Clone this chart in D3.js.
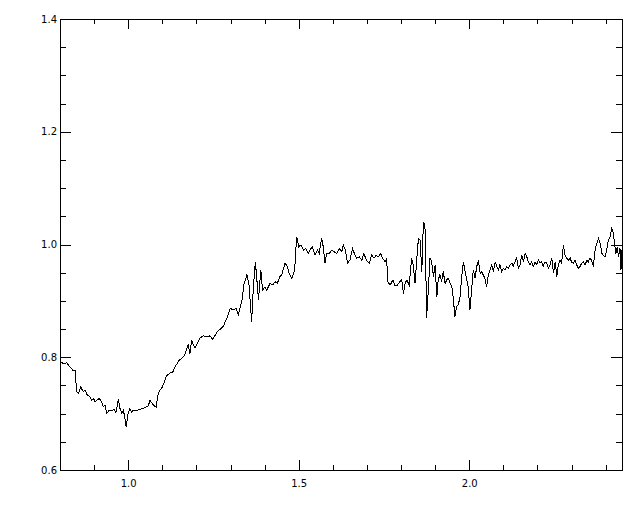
<!DOCTYPE html>
<html>
<head>
<meta charset="utf-8">
<script src="https://cdn.jsdelivr.net/npm/d3@7"></script>
<style>
  html, body { margin: 0; padding: 0; background: #fff; }
  svg { display: block; }
  .tick text { font-family: "DejaVu Sans", sans-serif; font-size: 10px; fill: #000; }
</style>
</head>
<body>
<svg id="chart" width="640" height="512"></svg>
<script>
// Wavelength (x) values
const wavelength = [
  0.800,0.810,0.820,0.829,0.839,0.844,0.849,0.854,0.861,0.868,0.873,0.880,0.888,0.893,0.898,0.903,0.908,0.915,0.922,0.927,
  0.932,0.937,0.945,0.952,0.958,0.964,0.971,0.976,0.981,0.986,0.991,0.994,1.000,1.005,1.010,1.015,1.025,1.035,1.044,1.054,
  1.059,1.064,1.069,1.076,1.082,1.088,1.093,1.098,1.105,1.111,1.118,1.123,1.131,1.137,1.144,1.150,1.157,1.164,1.170,1.176,
  1.181,1.186,1.191,1.196,1.203,1.211,1.220,1.230,1.240,1.247,1.255,1.261,1.279,1.289,1.299,1.308,1.316,1.323,1.333,1.340,
  1.348,1.354,1.362,1.367,1.373,1.379,1.382,1.389,1.394,1.401,1.406,1.416,1.424,1.431,1.437,1.445,1.450,1.460,1.467,1.472,
  1.480,1.488,1.494,1.500,1.506,1.514,1.521,1.528,1.533,1.540,1.548,1.555,1.560,1.567,1.572,1.577,1.582,1.590,1.597,1.604,
  1.611,1.619,1.626,1.631,1.637,1.643,1.650,1.658,1.665,1.670,1.678,1.685,1.691,1.699,1.707,1.714,1.721,1.727,1.733,1.740,
  1.746,1.753,1.758,1.761,1.768,1.776,1.782,1.789,1.797,1.802,1.807,1.812,1.817,1.824,1.831,1.836,1.841,1.846,1.851,1.856,
  1.861,1.864,1.867,1.871,1.875,1.880,1.885,1.890,1.895,1.900,1.905,1.909,1.914,1.919,1.924,1.929,1.934,1.939,1.944,1.949,
  1.953,1.958,1.963,1.968,1.973,1.978,1.983,1.988,1.993,1.997,2.002,2.007,2.012,2.017,2.022,2.027,2.032,2.037,2.041,2.046,
  2.051,2.056,2.061,2.066,2.071,2.076,2.081,2.086,2.090,2.095,2.100,2.105,2.110,2.115,2.120,2.125,2.129,2.134,2.139,2.144,
  2.149,2.154,2.159,2.164,2.169,2.173,2.178,2.183,2.188,2.193,2.198,2.203,2.208,2.212,2.217,2.222,2.227,2.232,2.237,2.242,
  2.247,2.252,2.257,2.261,2.266,2.271,2.276,2.281,2.286,2.291,2.296,2.300,2.305,2.310,2.315,2.320,2.325,2.330,2.335,2.340,
  2.345,2.349,2.354,2.359,2.364,2.369,2.374,2.379,2.384,2.389,2.393,2.398,2.403,2.408,2.413,2.418,2.423,2.426,2.430,2.434,
  2.438,2.442,2.445,2.448
];
// Flux (y) values
const flux = [
  0.792,0.789,0.790,0.783,0.776,0.777,0.739,0.736,0.747,0.739,0.742,0.733,0.730,0.724,0.727,0.721,0.724,0.727,0.721,0.712,
  0.715,0.701,0.706,0.705,0.708,0.702,0.725,0.709,0.701,0.706,0.689,0.677,0.701,0.709,0.703,0.706,0.705,0.708,0.709,0.712,
  0.714,0.724,0.719,0.714,0.712,0.736,0.742,0.745,0.754,0.766,0.770,0.772,0.774,0.783,0.789,0.795,0.798,0.802,0.812,0.822,
  0.806,0.831,0.822,0.816,0.825,0.834,0.838,0.836,0.838,0.832,0.839,0.845,0.855,0.869,0.887,0.884,0.887,0.875,0.899,0.931,
  0.946,0.931,0.863,0.925,0.969,0.925,0.902,0.955,0.919,0.925,0.919,0.931,0.928,0.934,0.931,0.943,0.946,0.967,0.961,0.949,
  0.940,0.955,1.014,0.996,0.999,0.990,0.993,0.984,0.990,0.996,0.981,0.990,0.984,1.011,0.996,0.967,0.984,0.984,0.990,0.987,
  0.984,0.993,0.987,0.999,0.990,0.967,0.972,0.993,0.981,0.976,0.978,0.972,0.984,0.972,0.967,0.981,0.976,0.981,0.978,0.984,
  0.976,0.969,0.974,0.934,0.928,0.937,0.928,0.928,0.934,0.937,0.913,0.931,0.937,0.928,0.976,0.964,0.931,0.972,1.011,1.008,
  0.952,1.014,1.040,1.026,0.869,0.919,0.976,0.969,0.943,0.964,0.907,0.937,0.946,0.934,0.952,0.931,0.937,0.940,0.931,0.925,
  0.907,0.872,0.890,0.893,0.907,0.943,0.969,0.952,0.937,0.925,0.884,0.919,0.955,0.940,0.961,0.972,0.949,0.952,0.946,0.940,
  0.925,0.946,0.955,0.964,0.952,0.969,0.961,0.955,0.964,0.952,0.958,0.955,0.961,0.958,0.964,0.967,0.961,0.969,0.976,0.958,
  0.964,0.981,0.969,0.984,0.978,0.969,0.964,0.969,0.961,0.969,0.964,0.972,0.967,0.969,0.961,0.969,0.967,0.958,0.964,0.976,
  0.949,0.969,0.943,0.964,0.972,0.967,0.999,0.981,0.976,0.972,0.976,0.969,0.967,0.972,0.964,0.958,0.961,0.967,0.969,0.964,
  0.972,0.969,0.976,0.972,0.961,0.990,1.002,1.011,1.002,0.984,0.981,0.978,0.990,1.008,1.014,1.029,1.020,1.002,0.984,0.996,
  0.978,0.993,0.955,0.990
];
const xMajorTicks = [1.0, 1.5, 2.0];
const xMinorTicks = [0.9, 1.1, 1.2, 1.3, 1.4, 1.6, 1.7, 1.8, 1.9, 2.1, 2.2, 2.3, 2.4];
const yMajorTicks = [0.6, 0.8, 1.0, 1.2, 1.4];
const yMinorTicks = [0.65, 0.7, 0.75, 0.85, 0.9, 0.95, 1.05, 1.1, 1.15, 1.25, 1.3, 1.35];

const L = 60, R = 622, T = 19, B = 470;
const svg = d3.select("#chart");
const x = d3.scaleLinear().domain([0.8, 2.448]).range([L, R]);
const y = d3.scaleLinear().domain([0.6, 1.4]).range([B, T]);

const fmt = d3.format(".1f");

function styleAxis(g) {
  g.select(".domain").remove();
  g.selectAll(".tick line").attr("stroke", "#000").attr("shape-rendering", "crispEdges");
}

// bottom
svg.append("g").attr("transform", `translate(0,${B})`)
  .call(d3.axisBottom(x).tickValues(xMajorTicks).tickSize(-10).tickPadding(10).tickFormat(fmt)).call(styleAxis);
svg.append("g").attr("transform", `translate(0,${B})`)
  .call(d3.axisBottom(x).tickValues(xMinorTicks).tickSize(-5).tickFormat("")).call(styleAxis);
// top
svg.append("g").attr("transform", `translate(0,${T})`)
  .call(d3.axisTop(x).tickValues(xMajorTicks).tickSize(-10).tickFormat("")).call(styleAxis);
svg.append("g").attr("transform", `translate(0,${T})`)
  .call(d3.axisTop(x).tickValues(xMinorTicks).tickSize(-5).tickFormat("")).call(styleAxis);
// left
svg.append("g").attr("transform", `translate(${L},0)`)
  .call(d3.axisLeft(y).tickValues(yMajorTicks).tickSize(-11).tickPadding(3).tickFormat(fmt)).call(styleAxis);
svg.append("g").attr("transform", `translate(${L},0)`)
  .call(d3.axisLeft(y).tickValues(yMinorTicks).tickSize(-6).tickFormat("")).call(styleAxis);
// right
svg.append("g").attr("transform", `translate(${R},0)`)
  .call(d3.axisRight(y).tickValues(yMajorTicks).tickSize(-11).tickFormat("")).call(styleAxis);
svg.append("g").attr("transform", `translate(${R},0)`)
  .call(d3.axisRight(y).tickValues(yMinorTicks).tickSize(-6).tickFormat("")).call(styleAxis);

// frame
svg.append("rect").attr("x", L).attr("y", T).attr("width", R - L).attr("height", B - T)
  .attr("fill", "none").attr("stroke", "#000").attr("shape-rendering", "crispEdges");

const data = wavelength.map((w, i) => [w, flux[i]]);
svg.append("path").datum(data)
  .attr("fill", "none").attr("stroke", "#000").attr("stroke-width", 1)
  .attr("shape-rendering", "crispEdges")
  .attr("d", d3.line().x(d => x(d[0])).y(d => y(d[1])));
</script>
</body>
</html>
